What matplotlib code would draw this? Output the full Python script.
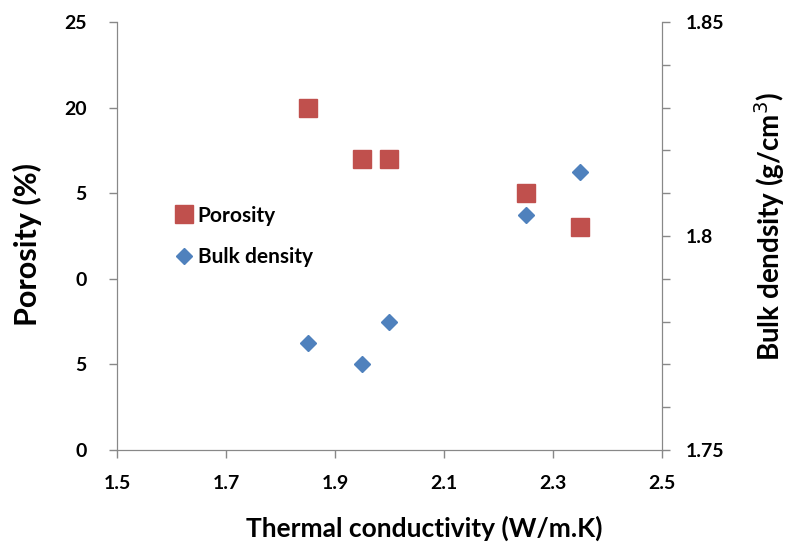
import matplotlib.pyplot as plt
import numpy as np

plt.rcParams['font.family'] = ['Lato', 'DejaVu Sans']

# thermal conductivity (W/m.K)
conductivity = [1.85, 1.95, 2.0, 2.25, 2.35]
porosity = [20, 17, 17, 15, 13]
bulk_density = [1.775, 1.770, 1.780, 1.805, 1.815]

x_ticks = [1.5, 1.7, 1.9, 2.1, 2.3, 2.5]
left_ticks = [0, 5, 10, 15, 20, 25]
left_labels = ['0', '5', '0', '5', '20', '25']  # as printed in the source image
right_ticks = [1.75, 1.8, 1.85]
right_labels = ['1.75', '1.8', '1.85']

red = '#C0504D'
blue = '#4F81BD'
axis_grey = '#888888'

fig = plt.figure(figsize=(7.89, 5.47), dpi=100)
ax = fig.add_axes([0.1483, 0.1773, 0.6907, 0.7824])
ax2 = ax.twinx()

p1, = ax.plot(conductivity, porosity, linestyle='none', marker='s',
              markersize=13, color=red, label='Porosity')
p2, = ax2.plot(conductivity, bulk_density, linestyle='none', marker='D',
               markersize=8.5, color=blue, label='Bulk density')

ax.set_xlim(1.5, 2.5)
ax.set_ylim(0, 25)
ax2.set_ylim(1.75, 1.85)

ax.set_xticks(x_ticks)
ax.set_xticklabels([f'{v:.1f}' for v in x_ticks])
ax.set_yticks(left_ticks)
ax.set_yticklabels(left_labels)
ax2.set_yticks(right_ticks)
ax2.set_yticklabels(right_labels)
ax2.set_yticks(np.arange(1.76, 1.85, 0.01), minor=True)

for a in (ax, ax2):
    for s in a.spines.values():
        s.set_color(axis_grey)
    a.spines['top'].set_visible(False)
    a.tick_params(colors=axis_grey, labelcolor='black', labelsize=14,
                  length=6, width=1)
    for lbl in a.get_xticklabels() + a.get_yticklabels():
        lbl.set_fontweight('bold')
ax2.tick_params(axis='y', which='minor', colors=axis_grey, length=6, width=1)
ax.tick_params(axis='x', pad=12)
ax.tick_params(axis='y', pad=16)
ax2.tick_params(axis='y', pad=11)

ax.set_xlabel('Thermal conductivity (W/m.K)', fontsize=19, fontweight='bold')
ax.set_ylabel('Porosity (%)', fontsize=22, fontweight='bold')
ax2.set_ylabel('Bulk dendsity (g/cm$^3$)', fontsize=20, fontweight='bold')

ax.xaxis.set_label_coords(0.564, -0.182)
ax.xaxis.label.set_va('center')
ax.yaxis.set_label_coords(-0.165, 0.48)
ax.yaxis.label.set_va('center')
ax2.yaxis.set_label_coords(1.198, 0.522)
ax2.yaxis.label.set_va('center')

leg = ax.legend(handles=[p1, p2], loc='upper left',
                bbox_to_anchor=(0.06, 0.615), frameon=False,
                handletextpad=-0.1, labelspacing=1.05, handlelength=1.5,
                prop={'weight': 'bold', 'size': 15})

fig.savefig('out.png', dpi=100)
